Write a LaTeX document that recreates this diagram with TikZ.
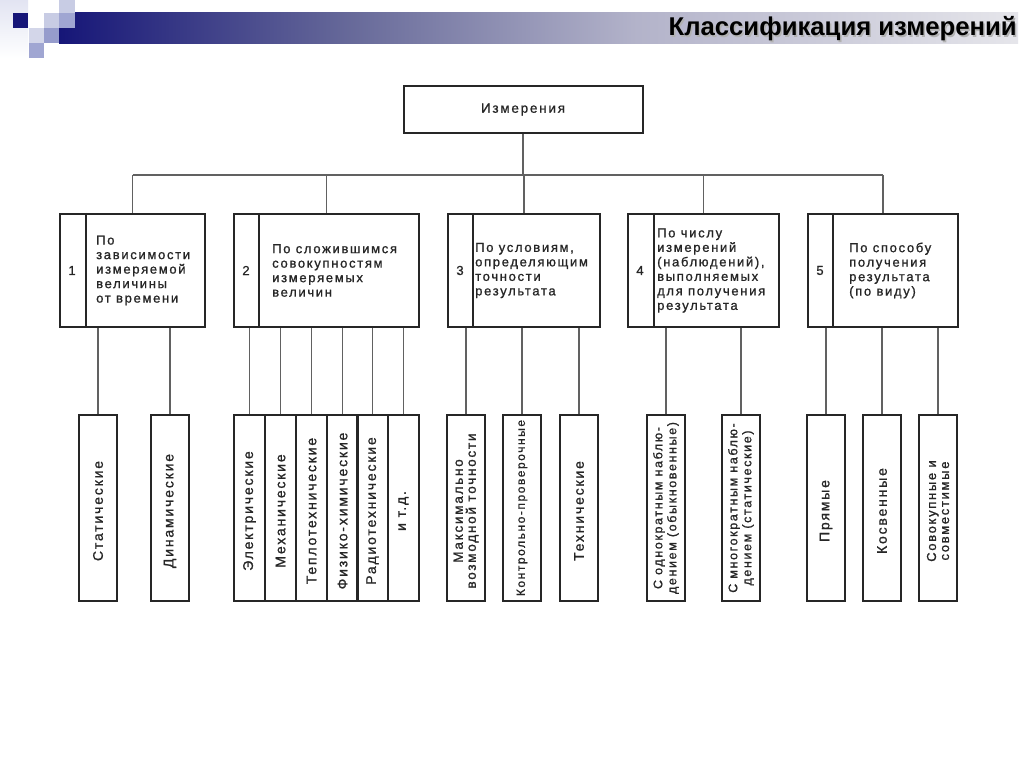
\documentclass[tikz,border=0pt]{standalone}
\usepackage{fontspec}
\setmainfont{Liberation Sans}
\newfontfamily\dfont[LetterSpace=13,FakeBold=1]{Liberation Sans}
\newfontfamily\tfont{Liberation Sans}
\usetikzlibrary{calc}
\definecolor{navyc}{RGB}{22,22,120}
\definecolor{sqA}{RGB}{200,204,228}
\definecolor{sqB}{RGB}{160,166,210}
\definecolor{sqC}{RGB}{150,156,204}
\definecolor{paleC}{RGB}{226,228,242}
\pgfdeclarehorizontalshading{barshade}{100bp}{rgb(0bp)=(0.086,0.086,0.47); rgb(25bp)=(0.086,0.086,0.47); rgb(40bp)=(0.40,0.41,0.60); rgb(55bp)=(0.70,0.70,0.79); rgb(75bp)=(0.90,0.90,0.92); rgb(100bp)=(0.90,0.90,0.92)}
\begin{document}
\begin{tikzpicture}[x=1pt,y=-1pt,
  boxst/.style={draw=black!85, line width=2pt, inner sep=0pt},
  conn/.style={draw=black!62, line width=1.5pt},
  cattxt/.style={font=\dfont\fontsize{13}{14.5}\selectfont, align=left, anchor=west, inner sep=0pt, text=black!85},
  numtxt/.style={font=\dfont\fontsize{13}{14.5}\selectfont, inner sep=0pt, text=black!85},
  leaftxt/.style={rotate=90, font=\dfont\fontsize{14}{15}\selectfont, align=center, inner sep=0pt, text=black!85},
  leaftwo/.style={leaftxt, font=\dfont\fontsize{12.5}{14}\selectfont},
  leafbox/.style={boxst, minimum width=38pt, minimum height=186pt},
  narrowbox/.style={boxst, minimum width=31pt, minimum height=186pt},
  catbox/.style={boxst, anchor=north west, minimum height=113pt},
]
\useasboundingbox (0,0) rectangle (1024,767);
\fill[white] (0,0) rectangle (1024,767);
% header decoration
\shade[top color=paleC, bottom color=white] (0,0) rectangle (28,58);
\shade[shading=barshade] (59,13) rectangle (1018,44);
\fill[navyc] (13,13) rectangle (28,28);
\fill[sqA] (44,13) rectangle (59,28);
\fill[sqA] (59,0) rectangle (75,13);
\fill[sqB] (59,13) rectangle (75,28);
\fill[sqA!80] (29,28) rectangle (44,43);
\fill[sqC] (44,28) rectangle (59,43);
\fill[sqB] (29,43) rectangle (44,58);
% title
\node[anchor=east, inner sep=0pt, text=black!30, font=\tfont\bfseries\fontsize{25.7}{28}\selectfont] (titleshadow) at (1018.5,30.5) {Классификация измерений};
\node[anchor=east, inner sep=0pt, font=\tfont\bfseries\fontsize{25.7}{28}\selectfont] (title) at (1017,29) {Классификация измерений};

% root
\node[boxst, minimum width=239pt, minimum height=47pt, font=\dfont\fontsize{13.5}{15}\selectfont, text=black!85] (top) at (523,109.5) {Измерения};
\coordinate (bus) at (523,175);

% category boxes
\node[catbox, minimum width=145pt] (c1) at (59,213) {};
\node[catbox, minimum width=185pt] (c2) at (233,213) {};
\node[catbox, minimum width=152pt] (c3) at (447,213) {};
\node[catbox, minimum width=151pt] (c4) at (627,213) {};
\node[catbox, minimum width=150pt] (c5) at (807,213) {};
\foreach \c/\d in {c1/27,c2/26,c3/26,c4/27,c5/26}{
  \draw[boxst] ([xshift=\d pt]\c.north west) -- ([xshift=\d pt]\c.south west);
}
\node[numtxt] (n1) at ($(c1.west)+(13,0)$) {1};
\node[numtxt] (n2) at ($(c2.west)+(13,0)$) {2};
\node[numtxt] (n3) at ($(c3.west)+(13,0)$) {3};
\node[numtxt] (n4) at ($(c4.west)+(13,0)$) {4};
\node[numtxt] (n5) at ($(c5.west)+(13,0)$) {5};
\node[cattxt] (t1) at ($(c1.west)+(37,0)$) {По\\зависимости\\измеряемой\\величины\\от времени};
\node[cattxt] (t2) at ($(c2.west)+(39,0)$) {По сложившимся\\совокупностям\\измеряемых\\величин};
\node[cattxt] (t3) at ($(c3.west)+(28,0)$) {По условиям,\\определяющим\\точности\\результата};
\node[cattxt] (t4) at ($(c4.west)+(30,0)$) {По числу\\измерений\\(наблюдений),\\выполняемых\\для получения\\результата};
\node[cattxt] (t5) at ($(c5.west)+(42,0)$) {По способу\\получения\\результата\\(по виду)};

% root connectors
\draw[conn] (top.south) -- (bus);
\draw[conn] (c1.north |- bus) -- (c5.north |- bus);
\foreach \c in {c1,c2,c3,c4,c5}{
  \draw[conn] (\c.north) -- (\c.north |- bus);
}

% leaves
\node[leafbox] (l11) at (98,508) {};
\node[leafbox] (l12) at (170,508) {};
\node[narrowbox] (l21) at (249.5,508) {};
\node[narrowbox] (l22) at (280.5,508) {};
\node[narrowbox] (l23) at (311.5,508) {};
\node[narrowbox] (l24) at (342.5,508) {};
\node[narrowbox] (l25) at (372.5,508) {};
\node[narrowbox] (l26) at (403.5,508) {};
\node[leafbox] (l31) at (466,508) {};
\node[leafbox] (l32) at (522,508) {};
\node[leafbox] (l33) at (579,508) {};
\node[leafbox] (l41) at (666,508) {};
\node[leafbox] (l42) at (741,508) {};
\node[leafbox] (l51) at (826,508) {};
\node[leafbox] (l52) at (882,508) {};
\node[leafbox] (l53) at (938,508) {};

\node[leaftxt] (x11) at ($(l11)+(0,3)$) {Статические};
\node[leaftxt] (x12) at ($(l12)+(0,3)$) {Динамические};
\node[leaftxt] (x21) at ($(l21)+(0,3)$) {Электрические};
\node[leaftxt] (x22) at ($(l22)+(0,3)$) {Механические};
\node[leaftxt] (x23) at ($(l23)+(0,3)$) {Теплотехнические};
\node[leaftxt] (x24) at ($(l24)+(0,3)$) {Физико-химические};
\node[leaftxt] (x25) at ($(l25)+(0,3)$) {Радиотехнические};
\node[leaftxt] (x26) at ($(l26)+(0,3)$) {и т.д.};
\node[leaftxt, font=\dfont\fontsize{13.5}{13}\selectfont] (x31) at ($(l31)+(0,3)$) {Максимально\\возмодной точности};
\node[leaftxt, font=\dfont\fontsize{12}{13}\selectfont] (x32) at ($(l32)+(0,0)$) {Контрольно-проверочные};
\node[leaftxt] (x33) at ($(l33)+(0,3)$) {Технические};
\node[leaftwo] (x41) at ($(l41)+(0,0)$) {С однократным наблю-\\дением (обыкновенные)};
\node[leaftwo] (x42) at ($(l42)+(0,0)$) {С многократным наблю-\\дением (статические)};
\node[leaftxt] (x51) at ($(l51)+(0,3)$) {Прямые};
\node[leaftxt] (x52) at ($(l52)+(0,3)$) {Косвенные};
\node[leaftxt, font=\dfont\fontsize{13}{13}\selectfont] (x53) at ($(l53)+(0,3)$) {Совокупные и\\совместимые};

% leaf connectors
\foreach \c/\l in {c1/l11,c1/l12,c2/l21,c2/l22,c2/l23,c2/l24,c2/l25,c2/l26,c3/l31,c3/l32,c3/l33,c4/l41,c4/l42,c5/l51,c5/l52,c5/l53}{
  \draw[conn] (\c.south -| \l.north) -- (\l.north);
}
\end{tikzpicture}
\end{document}
